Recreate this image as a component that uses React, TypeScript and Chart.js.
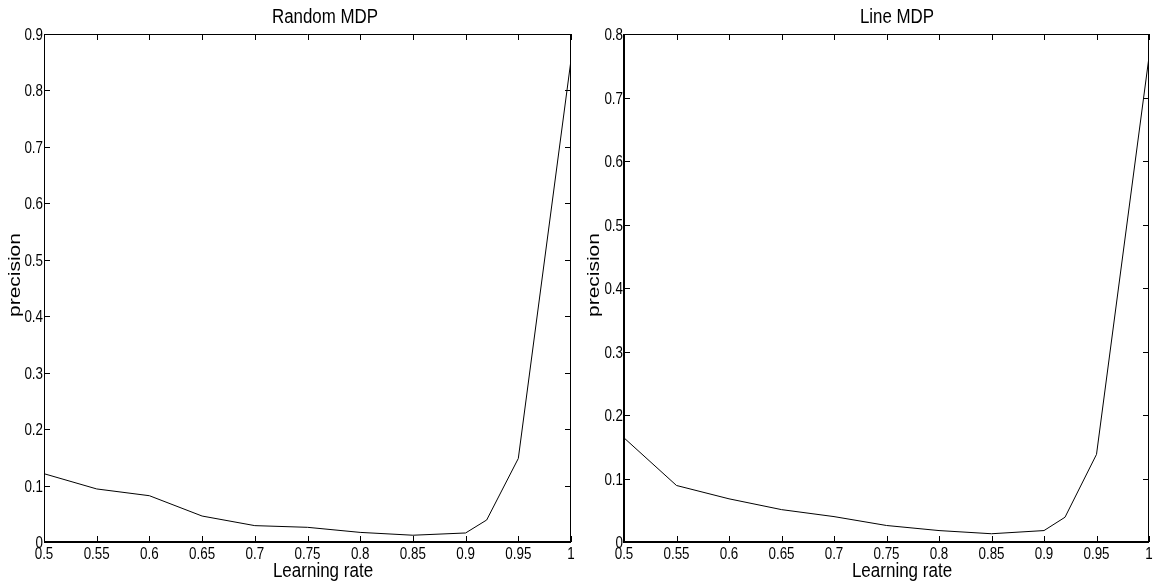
import React, { useEffect, useRef } from 'react';
import { Chart, registerables } from 'chart.js';

Chart.register(...registerables);

// ---- data ----
const learningRates = [0.5, 0.55, 0.6, 0.65, 0.7, 0.75, 0.8, 0.85, 0.9, 0.92, 0.95, 1.0];
const randomMdpPrecision = [0.121, 0.094, 0.082, 0.046, 0.029, 0.026, 0.017, 0.012, 0.016, 0.039, 0.148, 0.854];
const lineMdpPrecision = [0.164, 0.089, 0.068, 0.051, 0.04, 0.026, 0.018, 0.013, 0.018, 0.039, 0.138, 0.764];

const xTickValues = [0.5, 0.55, 0.6, 0.65, 0.7, 0.75, 0.8, 0.85, 0.9, 0.95, 1];
const xTickLabels = ['0.5', '0.55', '0.6', '0.65', '0.7', '0.75', '0.8', '0.85', '0.9', '0.95', '1'];
const randomYTickValues = [0, 0.1, 0.2, 0.3, 0.4, 0.5, 0.6, 0.7, 0.8, 0.9];
const randomYTickLabels = ['0', '0.1', '0.2', '0.3', '0.4', '0.5', '0.6', '0.7', '0.8', '0.9'];
const lineYTickValues = [0, 0.1, 0.2, 0.3, 0.4, 0.5, 0.6, 0.7, 0.8];
const lineYTickLabels = ['0', '0.1', '0.2', '0.3', '0.4', '0.5', '0.6', '0.7', '0.8'];

const FONT = "'Liberation Sans', Arial, Helvetica, sans-serif";
const STRETCH = 1.24;

type PanelProps = {
  title: string;
  values: number[];
  yTickValues: number[];
  yTickLabels: string[];
  yMax: number;
  left: number;
  areaLeft: number;
  padRight: number;
  leftLineWidth: number;
  titleX: number;
  xLabelX: number;
  yLabelX: number;
};

function drawText(
  ctx: CanvasRenderingContext2D,
  text: string,
  x: number,
  y: number,
  size: number,
  align: CanvasTextAlign,
  rotate = false
) {
  ctx.save();
  ctx.translate(x, y);
  if (rotate) {
    ctx.rotate(-Math.PI / 2);
    ctx.scale(STRETCH, 1);
  } else {
    ctx.scale(1, STRETCH);
  }
  ctx.font = `${size}px ${FONT}`;
  ctx.textAlign = align;
  ctx.textBaseline = 'alphabetic';
  ctx.fillText(text, 0, 0);
  ctx.restore();
}

function Panel(props: PanelProps) {
  const ref = useRef<HTMLCanvasElement | null>(null);

  useEffect(() => {
    const canvas = ref.current;
    if (!canvas) return;
    const p = props;

    const decor = {
      id: 'decor',
      afterDraw(chart: any) {
        const { ctx, chartArea: a, scales } = chart;
        const xs = scales.x;
        const ys = scales.y;
        ctx.save();
        ctx.strokeStyle = '#000';
        ctx.fillStyle = '#000';

        const seg = (x1: number, y1: number, x2: number, y2: number, w: number) => {
          ctx.lineWidth = w;
          ctx.beginPath();
          ctx.moveTo(x1, y1);
          ctx.lineTo(x2, y2);
          ctx.stroke();
        };

        const L = Math.round(a.left);
        const R = Math.round(a.right);
        const T = Math.round(a.top);
        const B = Math.round(a.bottom);

        // frame
        seg(L, T + 0.5, R, T + 0.5, 1);
        seg(R - 0.5, T, R - 0.5, B, 1);
        seg(L, B, R, B, 2);
        if (p.leftLineWidth === 2) seg(L, T, L, B + 1, 2);
        else seg(L + 0.5, T, L + 0.5, B + 1, 1);

        // inward ticks
        const tl = 6;
        xTickValues.forEach((v) => {
          const px = Math.round(xs.getPixelForValue(v)) + 0.5;
          seg(px, B, px, B - tl, 1);
          seg(px, T, px, T + tl, 1);
        });
        p.yTickValues.forEach((v) => {
          const py = Math.round(ys.getPixelForValue(v)) + 0.5;
          seg(L, py, L + tl, py, 1);
          seg(R, py, R - tl, py, 1);
        });

        // tick labels
        xTickValues.forEach((v, i) => {
          const px = xs.getPixelForValue(v);
          drawText(ctx, xTickLabels[i], px, 559, 13.4, 'center');
        });
        p.yTickValues.forEach((v, i) => {
          const py = ys.getPixelForValue(v);
          drawText(ctx, p.yTickLabels[i], L - 1, py + 6, 13.4, 'right');
        });

        // titles
        drawText(ctx, p.title, p.titleX, 23, 16.9, 'center');
        drawText(ctx, 'Learning rate', p.xLabelX, 577, 17, 'center');
        drawText(ctx, 'precision', p.yLabelX + 3, 275, 16.9, 'center', true);

        ctx.restore();
      },
    };

    const chart = new Chart(canvas, {
      type: 'line',
      data: {
        datasets: [
          {
            data: learningRates.map((x, i) => ({ x, y: p.values[i] })),
            borderColor: '#000',
            borderWidth: 1,
            pointRadius: 0,
            tension: 0,
            fill: false,
          },
        ],
      },
      options: {
        animation: false,
        responsive: false,
        layout: { padding: { left: 0, right: p.padRight, top: 34, bottom: 0 } },
        plugins: {
          legend: { display: false },
          title: { display: false },
          tooltip: { enabled: false },
        },
        scales: {
          x: {
            type: 'linear',
            min: 0.5,
            max: 1,
            grid: { display: false },
            border: { display: false },
            ticks: { display: false },
            afterBuildTicks: (s: any) => {
              s.ticks = xTickValues.map((v) => ({ value: v }));
            },
            afterFit: (s: any) => {
              s.height = 39;
            },
          },
          y: {
            type: 'linear',
            min: 0,
            max: p.yMax,
            grid: { display: false },
            border: { display: false },
            ticks: { display: false },
            afterBuildTicks: (s: any) => {
              s.ticks = p.yTickValues.map((v) => ({ value: v }));
            },
            afterFit: (s: any) => {
              s.width = p.areaLeft;
            },
          },
        },
      } as any,
      plugins: [decor],
    });

    return () => chart.destroy();
  }, []);

  return (
    <canvas
      ref={ref}
      width={577}
      height={581}
      style={{ position: 'absolute', left: props.left, top: 0, width: 577, height: 581 }}
    />
  );
}

export default function App() {
  return (
    <div style={{ position: 'absolute', left: 0, top: 0, width: 1154, height: 581, background: '#fff', overflow: 'hidden' }}>
      <Panel
        title="Random MDP"
        values={randomMdpPrecision}
        yTickValues={randomYTickValues}
        yTickLabels={randomYTickLabels}
        yMax={0.9}
        left={0}
        areaLeft={44}
        padRight={6}
        leftLineWidth={1}
        titleX={325}
        xLabelX={323}
        yLabelX={17}
      />
      <Panel
        title="Line MDP"
        values={lineMdpPrecision}
        yTickValues={lineYTickValues}
        yTickLabels={lineYTickLabels}
        yMax={0.8}
        left={577}
        areaLeft={47}
        padRight={5}
        leftLineWidth={2}
        titleX={320}
        xLabelX={325}
        yLabelX={19}
      />
    </div>
  );
}
